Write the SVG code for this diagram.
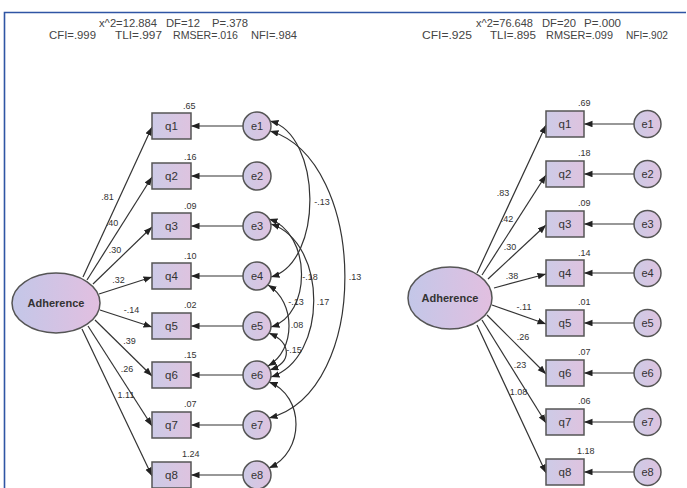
<svg xmlns="http://www.w3.org/2000/svg" width="687" height="488" viewBox="0 0 687 488">
<defs>
<linearGradient id="gb" x1="0" y1="0" x2="1" y2="0"><stop offset="0" stop-color="#cdcbe7"/><stop offset="1" stop-color="#dec3df"/></linearGradient>
<linearGradient id="ge" x1="0" y1="0" x2="1" y2="0"><stop offset="0" stop-color="#c3c7e8"/><stop offset="1" stop-color="#e2bfe0"/></linearGradient>
<marker id="ah" markerUnits="userSpaceOnUse" markerWidth="10" markerHeight="8" refX="8.5" refY="3.25" orient="auto-start-reverse"><path d="M0,0 L8.5,3.25 L0,6.5 z" fill="#222"/></marker>
<style>
.hd{font-family:"Liberation Sans",Arial,sans-serif;font-size:11px;fill:#444}
.bx{fill:url(#gb);stroke:#555;stroke-width:1.5}
.ci{fill:url(#gb);stroke:#555;stroke-width:1.5}
.el{fill:url(#ge);stroke:#555;stroke-width:1.5}
.nt{font-family:"Liberation Sans",Arial,sans-serif;font-size:11.5px;fill:#333;text-anchor:middle}
.et{font-family:"Liberation Sans",Arial,sans-serif;font-size:11px;fill:#333;text-anchor:middle}
.ad{font-family:"Liberation Sans",Arial,sans-serif;font-size:11px;font-weight:bold;fill:#333;text-anchor:middle}
.lb{font-family:"Liberation Sans",Arial,sans-serif;font-size:9px;fill:#333;text-anchor:middle}
.vl{font-family:"Liberation Sans",Arial,sans-serif;font-size:9px;fill:#333}
.ln{stroke:#333;stroke-width:1.2;fill:none;marker-end:url(#ah)}
.cv{stroke:#333;stroke-width:1.2;fill:none;marker-start:url(#ah);marker-end:url(#ah)}
</style>
</defs>
<rect width="687" height="488" fill="#fff"/>
<path d="M4.5,488 V12.5 H686" fill="none" stroke="#2f55a4" stroke-width="1.6"/>

<g id="header-left">
<text class="hd" x="99" y="27" textLength="58" lengthAdjust="spacingAndGlyphs">x^2=12.884</text>
<text class="hd" x="166" y="27" textLength="34" lengthAdjust="spacingAndGlyphs">DF=12</text>
<text class="hd" x="212" y="27" textLength="36" lengthAdjust="spacingAndGlyphs">P=.378</text>
<text class="hd" x="49" y="39" textLength="47" lengthAdjust="spacingAndGlyphs">CFI=.999</text>
<text class="hd" x="115" y="39" textLength="47" lengthAdjust="spacingAndGlyphs">TLI=.997</text>
<text class="hd" x="173" y="39" textLength="65" lengthAdjust="spacingAndGlyphs">RMSER=.016</text>
<text class="hd" x="251" y="39" textLength="46" lengthAdjust="spacingAndGlyphs">NFI=.984</text>
</g>
<g id="header-right">
<text class="hd" x="476" y="27" textLength="57" lengthAdjust="spacingAndGlyphs">x^2=76.648</text>
<text class="hd" x="542" y="27" textLength="34" lengthAdjust="spacingAndGlyphs">DF=20</text>
<text class="hd" x="584" y="27" textLength="37" lengthAdjust="spacingAndGlyphs">P=.000</text>
<text class="hd" x="422" y="39" textLength="50" lengthAdjust="spacingAndGlyphs">CFI=.925</text>
<text class="hd" x="490" y="39" textLength="46" lengthAdjust="spacingAndGlyphs">TLI=.895</text>
<text class="hd" x="546" y="39" textLength="67" lengthAdjust="spacingAndGlyphs">RMSER=.099</text>
<text class="hd" x="626" y="39" textLength="42" lengthAdjust="spacingAndGlyphs">NFI=.902</text>
</g>

<g id="connectors">
<line class="ln" x1="83" y1="277" x2="152" y2="127"/>
<line class="ln" x1="87" y1="280" x2="152" y2="177"/>
<line class="ln" x1="93" y1="284" x2="152" y2="227"/>
<line class="ln" x1="99" y1="294" x2="152" y2="277"/>
<line class="ln" x1="100" y1="310" x2="152" y2="327"/>
<line class="ln" x1="95" y1="320" x2="152" y2="376"/>
<line class="ln" x1="88" y1="326" x2="152" y2="426"/>
<line class="ln" x1="82" y1="329" x2="152" y2="476"/>
<line class="ln" x1="243" y1="126" x2="191" y2="126"/>
<line class="ln" x1="243" y1="176" x2="191" y2="176"/>
<line class="ln" x1="243" y1="226" x2="191" y2="226"/>
<line class="ln" x1="243" y1="276" x2="191" y2="276"/>
<line class="ln" x1="243" y1="326" x2="191" y2="326"/>
<line class="ln" x1="243" y1="375" x2="191" y2="375"/>
<line class="ln" x1="243" y1="425" x2="191" y2="425"/>
<line class="ln" x1="243" y1="475" x2="191" y2="475"/>
<path class="cv" d="M270,121 C322,135 324,262 271,277"/>
<path class="cv" d="M270,131 C368,160 372,392 269,418"/>
<path class="cv" d="M269,219 C312,233 312,315 271,327"/>
<path class="cv" d="M271,224 C328,243 328,358 271,377"/>
<path class="cv" d="M268,285 C296,302 296,350 268,366"/>
<path class="cv" d="M269,333 C292,343 292,362 270,370"/>
<path class="cv" d="M269,382 C305,396 305,452 269,468"/>
<line class="ln" x1="477" y1="273" x2="546" y2="125"/>
<line class="ln" x1="482" y1="275" x2="546" y2="175"/>
<line class="ln" x1="488" y1="279" x2="546" y2="225"/>
<line class="ln" x1="494" y1="288" x2="546" y2="274"/>
<line class="ln" x1="492" y1="305" x2="546" y2="324"/>
<line class="ln" x1="487" y1="315" x2="546" y2="374"/>
<line class="ln" x1="482" y1="320" x2="546" y2="423"/>
<line class="ln" x1="477" y1="325" x2="546" y2="473"/>
<line class="ln" x1="634" y1="124" x2="584" y2="124"/>
<line class="ln" x1="634" y1="174" x2="584" y2="174"/>
<line class="ln" x1="634" y1="224" x2="584" y2="224"/>
<line class="ln" x1="634" y1="273" x2="584" y2="273"/>
<line class="ln" x1="634" y1="323" x2="584" y2="323"/>
<line class="ln" x1="634" y1="373" x2="584" y2="373"/>
<line class="ln" x1="634" y1="422" x2="584" y2="422"/>
<line class="ln" x1="634" y1="472" x2="584" y2="472"/>
</g>

<g id="path-labels-left">
<text class="lb" x="107.5" y="200">.81</text>
<text class="lb" x="112" y="226">.40</text>
<text class="lb" x="115" y="253">.30</text>
<text class="lb" x="118.5" y="283">.32</text>
<text class="lb" x="131.5" y="313">-.14</text>
<text class="lb" x="129.5" y="344">.39</text>
<text class="lb" x="127" y="372">.26</text>
<text class="lb" x="126" y="398">1.11</text>
<text class="lb" x="322" y="205">-.13</text>
<text class="lb" x="355" y="280">.13</text>
<text class="lb" x="310" y="280">-.18</text>
<text class="lb" x="296" y="305">-.13</text>
<text class="lb" x="323" y="305">.17</text>
<text class="lb" x="297" y="328">.08</text>
<text class="lb" x="294" y="353">-.15</text>
</g>
<g id="path-labels-right">
<text class="lb" x="503" y="196">.83</text>
<text class="lb" x="507" y="222">.42</text>
<text class="lb" x="510" y="250">.30</text>
<text class="lb" x="512" y="279">.38</text>
<text class="lb" x="524" y="310">-.11</text>
<text class="lb" x="523" y="340">.26</text>
<text class="lb" x="520" y="368">.23</text>
<text class="lb" x="518.5" y="395">1.08</text>
</g>

<g id="L-adherence"><ellipse class="el" cx="56" cy="303" rx="44" ry="30"/><text class="ad" x="56" y="307">Adherence</text></g>
<g id="L-q1"><rect class="bx" x="152" y="113" width="39" height="26"/><text class="nt" x="171.5" y="130">q1</text><text class="vl" x="183" y="109">.65</text></g>
<g id="L-q2"><rect class="bx" x="152" y="163" width="39" height="26"/><text class="nt" x="171.5" y="180">q2</text><text class="vl" x="184" y="160">.16</text></g>
<g id="L-q3"><rect class="bx" x="152" y="213" width="39" height="26"/><text class="nt" x="171.5" y="230">q3</text><text class="vl" x="184" y="209">.09</text></g>
<g id="L-q4"><rect class="bx" x="152" y="263" width="39" height="26"/><text class="nt" x="171.5" y="280">q4</text><text class="vl" x="184" y="259">.10</text></g>
<g id="L-q5"><rect class="bx" x="152" y="313" width="39" height="26"/><text class="nt" x="171.5" y="330">q5</text><text class="vl" x="184" y="308">.02</text></g>
<g id="L-q6"><rect class="bx" x="152" y="362" width="39" height="26"/><text class="nt" x="171.5" y="379">q6</text><text class="vl" x="184" y="358">.15</text></g>
<g id="L-q7"><rect class="bx" x="152" y="412" width="39" height="26"/><text class="nt" x="171.5" y="429">q7</text><text class="vl" x="184" y="407">.07</text></g>
<g id="L-q8"><rect class="bx" x="152" y="462" width="39" height="26"/><text class="nt" x="171.5" y="479">q8</text><text class="vl" x="182" y="457">1.24</text></g>
<g id="L-e1"><circle class="ci" cx="257" cy="126" r="14"/><text class="et" x="257" y="130">e1</text></g>
<g id="L-e2"><circle class="ci" cx="257" cy="176" r="14"/><text class="et" x="257" y="180">e2</text></g>
<g id="L-e3"><circle class="ci" cx="257" cy="226" r="14"/><text class="et" x="257" y="230">e3</text></g>
<g id="L-e4"><circle class="ci" cx="257" cy="276" r="14"/><text class="et" x="257" y="280">e4</text></g>
<g id="L-e5"><circle class="ci" cx="257" cy="326" r="14"/><text class="et" x="257" y="330">e5</text></g>
<g id="L-e6"><circle class="ci" cx="257" cy="375" r="14"/><text class="et" x="257" y="379">e6</text></g>
<g id="L-e7"><circle class="ci" cx="257" cy="425" r="14"/><text class="et" x="257" y="429">e7</text></g>
<g id="L-e8"><circle class="ci" cx="257" cy="475" r="14"/><text class="et" x="257" y="479">e8</text></g>

<g id="R-adherence"><ellipse class="el" cx="450" cy="298" rx="42" ry="31"/><text class="ad" x="450" y="302">Adherence</text></g>
<g id="R-q1"><rect class="bx" x="546" y="111" width="38" height="26"/><text class="nt" x="565" y="128">q1</text><text class="vl" x="578" y="106">.69</text></g>
<g id="R-q2"><rect class="bx" x="546" y="161" width="38" height="26"/><text class="nt" x="565" y="178">q2</text><text class="vl" x="578" y="156">.18</text></g>
<g id="R-q3"><rect class="bx" x="546" y="211" width="38" height="26"/><text class="nt" x="565" y="228">q3</text><text class="vl" x="578" y="206">.09</text></g>
<g id="R-q4"><rect class="bx" x="546" y="260" width="38" height="26"/><text class="nt" x="565" y="277">q4</text><text class="vl" x="578" y="256">.14</text></g>
<g id="R-q5"><rect class="bx" x="546" y="310" width="38" height="26"/><text class="nt" x="565" y="327">q5</text><text class="vl" x="578" y="305">.01</text></g>
<g id="R-q6"><rect class="bx" x="546" y="360" width="38" height="26"/><text class="nt" x="565" y="377">q6</text><text class="vl" x="578" y="355">.07</text></g>
<g id="R-q7"><rect class="bx" x="546" y="409" width="38" height="26"/><text class="nt" x="565" y="426">q7</text><text class="vl" x="578" y="404">.06</text></g>
<g id="R-q8"><rect class="bx" x="546" y="459" width="38" height="26"/><text class="nt" x="565" y="476">q8</text><text class="vl" x="577" y="454">1.18</text></g>
<g id="R-e1"><circle class="ci" cx="647.5" cy="124" r="13.5"/><text class="et" x="647.5" y="128">e1</text></g>
<g id="R-e2"><circle class="ci" cx="647.5" cy="174" r="13.5"/><text class="et" x="647.5" y="178">e2</text></g>
<g id="R-e3"><circle class="ci" cx="647.5" cy="224" r="13.5"/><text class="et" x="647.5" y="228">e3</text></g>
<g id="R-e4"><circle class="ci" cx="647.5" cy="273" r="13.5"/><text class="et" x="647.5" y="277">e4</text></g>
<g id="R-e5"><circle class="ci" cx="647.5" cy="323" r="13.5"/><text class="et" x="647.5" y="327">e5</text></g>
<g id="R-e6"><circle class="ci" cx="647.5" cy="373" r="13.5"/><text class="et" x="647.5" y="377">e6</text></g>
<g id="R-e7"><circle class="ci" cx="647.5" cy="422" r="13.5"/><text class="et" x="647.5" y="426">e7</text></g>
<g id="R-e8"><circle class="ci" cx="647.5" cy="472" r="13.5"/><text class="et" x="647.5" y="476">e8</text></g>
</svg>
